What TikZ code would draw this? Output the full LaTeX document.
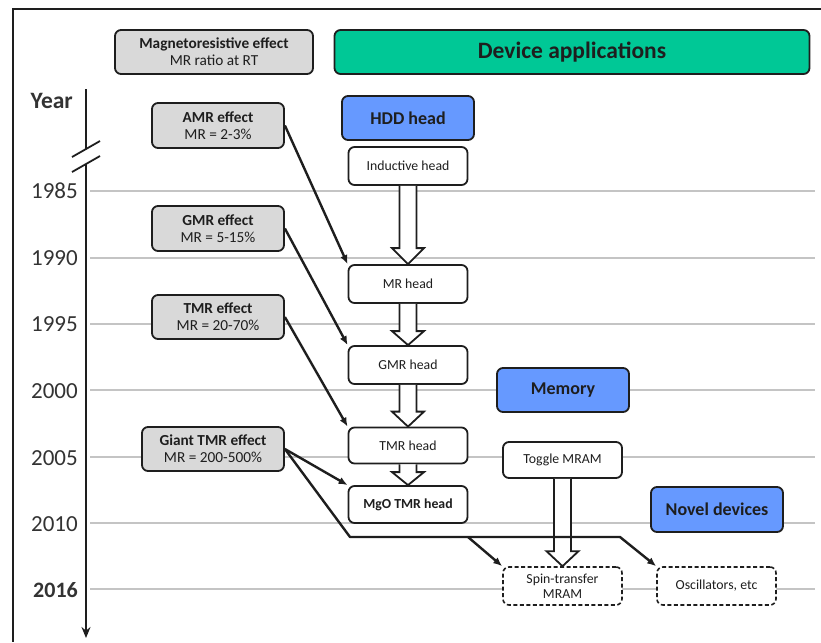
\documentclass[tikz,border=0pt]{standalone}
\usepackage{fontspec}
\setmainfont{Carlito}
\usetikzlibrary{arrows.meta,calc}
\definecolor{boxgray}{HTML}{D9D9D9}
\definecolor{devgreen}{HTML}{00C896}
\definecolor{hddblue}{HTML}{6699FF}
\definecolor{gridgray}{HTML}{C4C4C4}
\definecolor{ink}{HTML}{1E1E1E}
\tikzset{
  box/.style={draw=ink, line width=1.8pt, rounded corners=6pt, align=center,
    inner sep=1pt, text=ink},
  graybox/.style={box, fill=boxgray, font=\fontsize{15.3}{17}\selectfont},
  bluebox/.style={box, fill=hddblue, minimum width=132pt, minimum height=44pt,
    font=\fontsize{18}{20}\selectfont\bfseries},
  whitebox/.style={box, fill=white, minimum width=119pt,
    font=\fontsize{13.8}{15}\selectfont},
  dashbox/.style={whitebox, dashed, dash pattern=on 4pt off 2.5pt, line width=1.6pt},
  yearlbl/.style={anchor=east, text=black!80, font=\fontsize{23}{24}\selectfont, inner sep=0pt},
  gridline/.style={draw=gridgray, line width=1.3pt},
  conn/.style={draw=ink, line width=2.4pt, -{Latex[length=9pt,width=7.5pt]}},
  hollow/.style={draw=ink, line width=1.8pt, fill=white, line join=miter},
}
% hollow block arrow: from node, to node, head length
\newcommand\blockarrow[3]{%
  \path[hollow] let \p1=(#1.south), \p2=(#2.north) in
    (\x1-8.5pt,\y1) -- (\x1-8.5pt,\y2+#3) -- (\x1-16pt,\y2+#3) -- (\x1,\y2)
    -- (\x1+16pt,\y2+#3) -- (\x1+8.5pt,\y2+#3) -- (\x1+8.5pt,\y1);}
\begin{document}
\begin{tikzpicture}[x=1pt,y=-1pt]
\useasboundingbox (0,0) rectangle (821,642);
% frame
\draw[line width=1.5pt, draw=ink] (821,9) -- (13,9) -- (13,642);
% grid lines
\foreach \yy in {191,258,324,390,457,523,589}
  \draw[gridline] (90,\yy) -- (815,\yy);
% year labels
\node[yearlbl, font=\fontsize{23.5}{24}\selectfont\bfseries] (yr) at (73,101) {Year};
\node[yearlbl] (y85) at (78,191) {1985};
\node[yearlbl] (y90) at (78,258) {1990};
\node[yearlbl] (y95) at (78,324) {1995};
\node[yearlbl] (y00) at (78,391) {2000};
\node[yearlbl] (y05) at (78,458) {2005};
\node[yearlbl] (y10) at (78,524) {2010};
\node[yearlbl, font=\fontsize{22}{24}\selectfont\bfseries] (y16) at (78,590) {2016};
% axis
\coordinate (axtop) at (86,89);
\coordinate (axbrk1) at (86,149);
\coordinate (axbrk2) at (86,164);
\coordinate (axbot) at (86,638);
\draw[line width=1.8pt, draw=ink] (axtop) -- (axbrk1);
\draw[line width=1.8pt, draw=ink, -{Stealth[length=11pt,width=9pt]}] (axbrk2) -- (axbot);
\draw[line width=1.8pt, draw=ink] (72,157) -- (100,141);
\draw[line width=1.8pt, draw=ink] (72,172) -- (100,156);
% headers
\node[graybox, minimum width=198pt, minimum height=44pt] (mre) at (214,52)
  {\textbf{Magnetoresistive effect}\\MR ratio at RT};
\node[box, fill=devgreen, minimum width=475pt, minimum height=44pt,
  font=\fontsize{23.5}{24}\selectfont\bfseries] (dev) at (572,52) {Device applications};
% effects
\node[graybox, minimum width=132pt, minimum height=45pt] (amr) at (218,125.5)
  {\textbf{AMR effect}\\MR = 2-3\%};
\node[graybox, minimum width=132pt, minimum height=45pt] (gmr) at (218,228.5)
  {\textbf{GMR effect}\\MR = 5-15\%};
\node[graybox, minimum width=132pt, minimum height=44pt] (tmr) at (218,317)
  {\textbf{TMR effect}\\MR = 20-70\%};
\node[graybox, minimum width=142pt, minimum height=44pt] (gtmr) at (213,449)
  {\textbf{Giant TMR effect}\\MR = 200-500\%};
% HDD heads
\node[bluebox] (hdd) at (408,118) {HDD head};
\node[whitebox, minimum height=38pt] (ind) at (408,166) {Inductive head};
\node[whitebox, minimum height=38pt] (mrh) at (408,284) {MR head};
\node[whitebox, minimum height=38pt] (gmrh) at (408,365) {GMR head};
\node[whitebox, minimum height=36pt] (tmrh) at (408,445.5) {TMR head};
\node[whitebox, minimum height=37pt, font=\fontsize{13.8}{15}\selectfont\bfseries] (mgo) at (408,504.5) {MgO TMR head};
% memory
\node[bluebox] (mem) at (563,390) {Memory};
\node[whitebox, minimum height=36pt] (tog) at (562.5,460) {Toggle MRAM};
\node[bluebox, minimum height=45pt] (nov) at (717,509.5) {Novel devices};
\node[dashbox, minimum height=38pt] (stt) at (562.5,586) {Spin-transfer\\MRAM};
\node[dashbox, minimum height=38pt] (osc) at (716.5,586) {Oscillators, etc};
% block arrows
\blockarrow{ind}{mrh}{16pt}
\blockarrow{mrh}{gmrh}{14pt}
\blockarrow{gmrh}{tmrh}{15pt}
\blockarrow{tmrh}{mgo}{13pt}
\blockarrow{tog}{stt}{15pt}
% connectors
\draw[conn] (amr.east) -- (mrh.north west);
\draw[conn] (gmr.east) -- (gmrh.north west);
\draw[conn] (tmr.east) -- (tmrh.north west);
\draw[conn] (gtmr.east) -- (mgo.north west);
\coordinate (bend1) at (350,537);
\coordinate (fork) at (468,537);
\coordinate (bend2) at (620,537);
\draw[conn, line join=round] (gtmr.east) -- (bend1) -- (bend2) -- (osc.north west);
\draw[conn] (fork) -- (stt.north west);
\end{tikzpicture}
\end{document}
